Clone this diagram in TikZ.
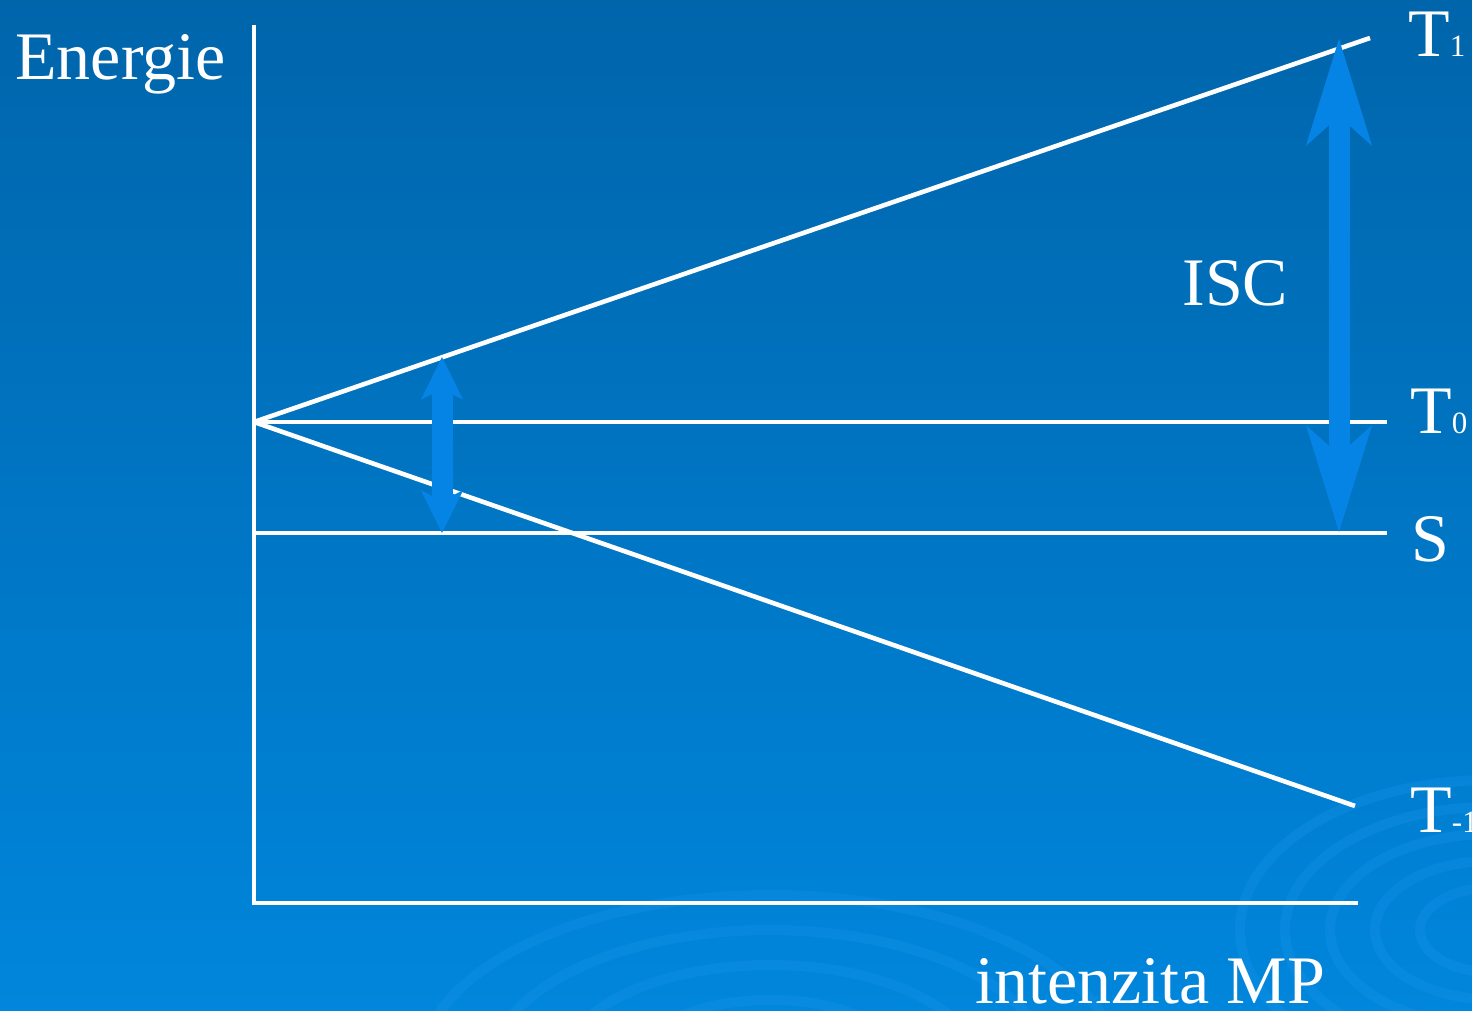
\documentclass[tikz,border=0pt]{standalone}
\usepackage{fontspec}
\setmainfont{Liberation Serif}
\usetikzlibrary{arrows.meta}
\definecolor{bgtop}{HTML}{0065AB}
\definecolor{bgmid}{HTML}{006BB4}
\definecolor{bgbot}{HTML}{0086DC}
\definecolor{swirl}{HTML}{1A95EC}
\definecolor{isc}{HTML}{0584E6}
\newcommand{\lblsz}{\fontsize{34}{40}\selectfont}
\newcommand{\subsz}{\fontsize{15.5}{16}\selectfont}
\tikzset{
  lvl/.style={draw=white, line width=2.3pt},
  ax/.style={draw=white, line width=2.3pt},
  lbl/.style={text=white, font=\lblsz, inner sep=0pt, anchor=base west},
  bigarr/.style={{Stealth[length=52.5pt, width=31.5pt, inset=13.5pt]}-{Stealth[length=52.5pt, width=31.5pt, inset=13.5pt]}, draw=isc, line width=10.5pt},
  smarr/.style={{Stealth[length=21pt, width=20.5pt, inset=5pt]}-{Stealth[length=21pt, width=20.5pt, inset=5pt]}, draw=isc, line width=10.5pt},
  rng/.style={draw=swirl, line width=5pt, opacity=0.3},
}
\begin{document}
\begin{tikzpicture}[x=0.5pt, y=-0.5pt]
  \useasboundingbox (0,0) rectangle (1472,1011);
  \shade[top color=bgtop, middle color=bgmid, bottom color=bgbot] (0,0) rectangle (1472,1011);
  \begin{scope}
    \clip (0,0) rectangle (1472,1011);
    \foreach \r in {70,115,160,205,250} {
      \draw[rng] (1490,930) ellipse ({\r} and {0.6*\r});
    }
    \foreach \r in {140,210,280,350} {
      \draw[rng] (770,1070) ellipse ({\r} and {0.5*\r});
    }
  \end{scope}

  \coordinate (orig) at (254,422);
  \coordinate (ytop) at (254,25);
  \coordinate (ybot) at (254,903);
  \coordinate (xend) at (1358,903);
  \coordinate (t0end) at (1387,422);
  \coordinate (sbeg) at (252,533);
  \coordinate (send) at (1387,533);
  \coordinate (t1end) at (1370,38);
  \coordinate (tm1end) at (1355,806);

  \node[lbl] (energ) at (15,80) {Energie};
  \node[lbl] (intz) at (975,1003) {intenzita MP};
  \node[lbl] (isclb) at (1182,305) {ISC};
  \node[lbl] (t1) at (1408,57) {T{\subsz 1}};
  \node[lbl] (t0) at (1410,433) {T{\subsz 0}};
  \node[lbl] (s) at (1411,561) {S};
  \node[lbl] (tm1) at (1410,832) {T{\subsz -1}};

  \draw[ax] (ytop) -- (ybot) -- (xend);
  \draw[lvl] (orig) -- (t0end);
  \draw[lvl] (sbeg) -- (send);
  \draw[lvl] (orig) -- (t1end);
  \draw[lvl] (orig) -- (tm1end);

  \coordinate (bigtop) at (1339,38);
  \coordinate (bigbot) at (1339,533);
  \coordinate (smtop) at (442,357);
  \coordinate (smbot) at (442,533);
  \draw[bigarr] (bigtop) -- (bigbot);
  \draw[smarr] (smtop) -- (smbot);
\end{tikzpicture}
\end{document}
